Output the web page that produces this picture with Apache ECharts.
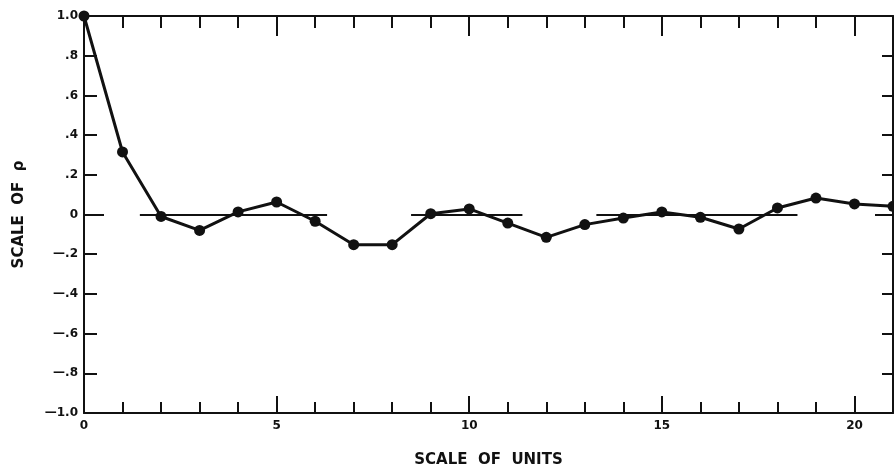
<!DOCTYPE html>
<html>
<head>
<meta charset="utf-8">
<script src="https://cdn.jsdelivr.net/npm/echarts@6/dist/echarts.min.js"></script>
<style>
  html, body { margin: 0; padding: 0; background: #fff; }
  #chart { width: 894px; height: 468px; }
</style>
</head>
<body>
<div id="chart"></div>
<script>
// lag (units) and correlation values
const lags = [0, 1, 2, 3, 4, 5, 6, 7, 8, 9, 10, 11, 12, 13, 14, 15, 16, 17, 18, 19, 20, 21];
const rho = [1.0, 0.315, -0.01, -0.08, 0.013, 0.063, -0.034, -0.152, -0.152, 0.004, 0.028, -0.043,
             -0.115, -0.051, -0.018, 0.013, -0.014, -0.073, 0.033, 0.083, 0.053, 0.041];
// short zero-reference segments drawn under the curve (x from, x to)
const zeroSegments = [[1.45, 6.31], [8.49, 11.38], [13.3, 18.52]];
const xTickLabels = ["0", "5", "10", "15", "20"];
const yTickLabels = { "1": "1.0", "0.8": ".8", "0.6": ".6", "0.4": ".4", "0.2": ".2", "0": "0",
  "-0.2": "\u2014.2", "-0.4": "\u2014.4", "-0.6": "\u2014.6", "-0.8": "\u2014.8", "-1": "\u20141.0" };

const ink = "#111";
const font = "DejaVu Sans";

let chart = echarts.init(document.getElementById("chart"));

// helpers for extra tick-only axes (frame ticks pointing inward)
function tickAxis(pos, interval, len, showLine) {
  return {
    type: "value", position: pos, min: 0, max: 21, interval: interval,
    axisLine: { show: !!showLine, onZero: false, lineStyle: { color: ink, width: 2 } },
    splitLine: { show: false }, axisLabel: { show: false },
    axisTick: { show: true, inside: true, length: len, lineStyle: { color: ink, width: 2 } }
  };
}
function yTickAxis(pos, interval, len, showLine) {
  return {
    type: "value", position: pos, min: -1, max: 1, interval: interval,
    axisLine: { show: !!showLine, onZero: false, lineStyle: { color: ink, width: 2 } },
    splitLine: { show: false }, axisLabel: { show: false },
    axisTick: { show: true, inside: true, length: len, lineStyle: { color: ink, width: 2 } }
  };
}

let option = {
  backgroundColor: "#fff",
  animation: false,
  grid: { left: 84, right: 1, top: 16, bottom: 55, outerBoundsMode: "none", containLabel: false },
  xAxis: [
    {
      type: "value", position: "bottom", min: 0, max: 21, interval: 1,
      name: "SCALE  OF  UNITS", nameLocation: "middle", nameGap: 40,
      nameTextStyle: { color: ink, fontFamily: font, fontWeight: "bold", fontSize: 15 },
      axisLine: { show: true, onZero: false, lineStyle: { color: ink, width: 2 } },
      axisTick: { show: true, inside: true, length: 11, lineStyle: { color: ink, width: 2 } },
      splitLine: { show: false },
      axisLabel: {
        color: ink, fontFamily: font, fontWeight: "bold", fontSize: 12, margin: 7,
        formatter: function (v) { return v % 5 === 0 ? xTickLabels[v / 5] : ""; }
      }
    },
    tickAxis("bottom", 5, 17),
    tickAxis("top", 1, 12, true),
    tickAxis("top", 5, 20)
  ],
  yAxis: [
    {
      type: "value", position: "left", min: -1, max: 1, interval: 0.2,
      name: "SCALE  OF  \u03c1", nameLocation: "middle", nameGap: 57,
      nameTextStyle: { color: ink, fontFamily: font, fontWeight: "bold", fontSize: 15 },
      axisLine: { show: true, onZero: false, lineStyle: { color: ink, width: 2 } },
      axisTick: { show: true, inside: true, length: 13, lineStyle: { color: ink, width: 2 } },
      splitLine: { show: false },
      axisLabel: {
        color: ink, fontFamily: font, fontWeight: "bold", fontSize: 12, margin: 6,
        formatter: function (v) { return yTickLabels[String(Math.round(v * 10) / 10)]; }
      }
    },
    yTickAxis("left", 1, 20),
    yTickAxis("right", 0.2, 11, true),
    yTickAxis("right", 1, 18)
  ],
  series: [
    {
      type: "line",
      data: lags.map((x, i) => [x, rho[i]]),
      clip: false,
      symbol: "circle",
      symbolSize: 11,
      lineStyle: { color: ink, width: 3 },
      itemStyle: { color: ink },
      markLine: {
        silent: true,
        symbol: ["none", "none"],
        label: { show: false },
        lineStyle: { color: ink, width: 2, type: "solid" },
        data: zeroSegments.map(s => [{ coord: [s[0], 0] }, { coord: [s[1], 0] }])
      },
      z: 3
    }
  ]
};
chart.setOption(option);
</script>
</body>
</html>
